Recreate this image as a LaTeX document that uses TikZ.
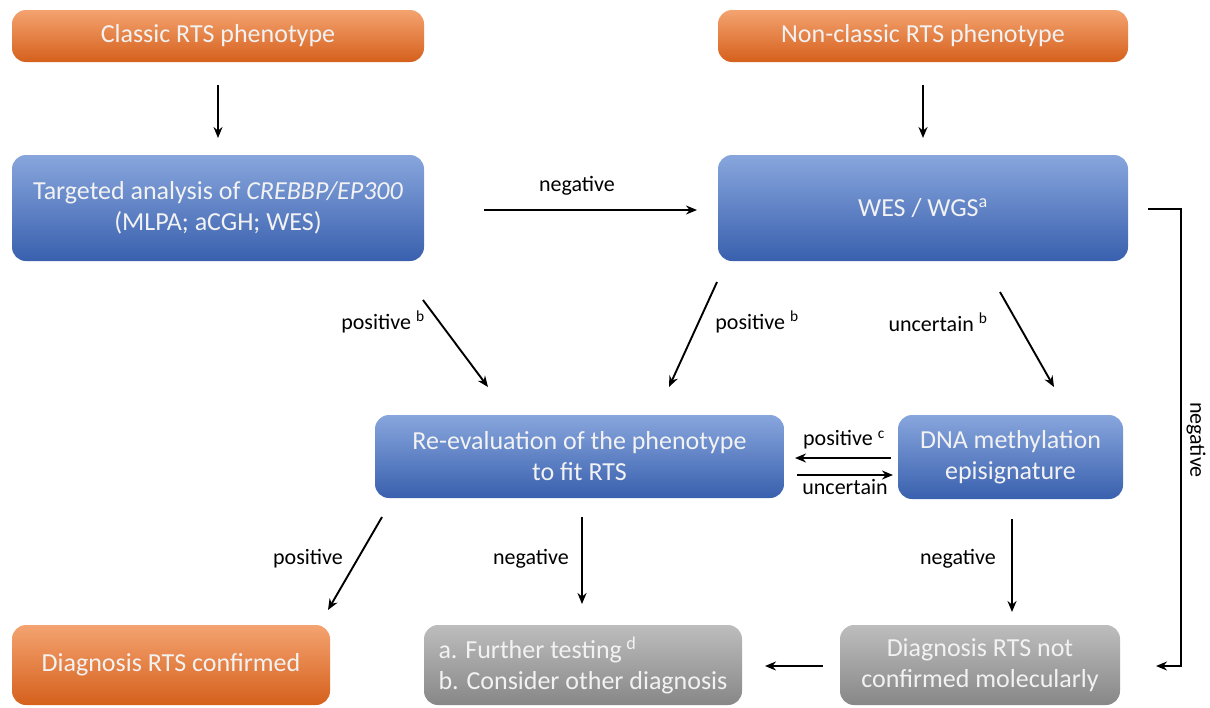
\documentclass[tikz,border=0pt]{standalone}
\usepackage{fontspec}
\setmainfont{Carlito}
\usetikzlibrary{arrows.meta}
\definecolor{orT}{HTML}{F4A370}
\definecolor{orB}{HTML}{D5601C}
\definecolor{blT}{HTML}{88A6DD}
\definecolor{blB}{HTML}{3960AE}
\definecolor{grT}{HTML}{BDBDBD}
\definecolor{grB}{HTML}{878787}
\tikzset{
  box/.style={rounded corners=14pt, align=center, text=white!95!black,
    font=\fontsize{26}{31}\selectfont, inner sep=0pt},
  obox/.style={box, top color=orT, bottom color=orB},
  bbox/.style={box, top color=blT, bottom color=blB},
  gbox/.style={box, top color=grT, bottom color=grB},
  lbl/.style={font=\fontsize{22}{26}\selectfont, text=black, inner sep=0pt},
  arr/.style={-{Stealth[length=11pt,width=9pt]}, line width=1.9pt, black}
}
\begin{document}
\begin{tikzpicture}[x=1pt,y=-1pt]
\useasboundingbox (0,0) rectangle (1210,707);
% boxes
\node[obox, minimum width=412pt, minimum height=52pt] (classic) at (218,36) {Classic RTS phenotype};
\node[obox, minimum width=410pt, minimum height=52pt] (nonclassic) at (923,36) {Non-classic RTS phenotype};
\node[bbox, minimum width=412pt, minimum height=106pt] (targeted) at (218,208) {Targeted analysis of \textit{CREBBP/EP300}\\(MLPA; aCGH; WES)};
\node[bbox, minimum width=410pt, minimum height=106pt] (wes) at (923,208) {WES / WGS\textsuperscript{a}};
\node[bbox, minimum width=409pt, minimum height=83pt] (reeval) at (579.5,456.5) {Re-evaluation of the phenotype\\to fit RTS};
\node[bbox, minimum width=225pt, minimum height=84pt] (dna) at (1010.5,457) {DNA methylation\\episignature};
\node[obox, minimum width=318pt, minimum height=80pt] (confirmed) at (171,665) {Diagnosis RTS confirmed};
\node[gbox, minimum width=318pt, minimum height=80pt, align=left] (further) at (583,665) {a. Further testing\,\textsuperscript{d}\\b. Consider other diagnosis};
\node[gbox, minimum width=280pt, minimum height=80pt] (notconf) at (980,665) {Diagnosis RTS not\\confirmed molecularly};
% connector end coordinates
\coordinate (c1s) at (218,85); \coordinate (c1e) at (218,138);
\coordinate (c2s) at (923,85); \coordinate (c2e) at (923,138);
\coordinate (c3s) at (484,210); \coordinate (c3e) at (697,210);
\coordinate (c4s) at (423,300); \coordinate (c4e) at (488,387);
\coordinate (c5s) at (717,282); \coordinate (c5e) at (669,387);
\coordinate (c6s) at (1000,292); \coordinate (c6e) at (1054,387);
\coordinate (c7s) at (891,458); \coordinate (c7e) at (795,458);
\coordinate (c8s) at (797,475); \coordinate (c8e) at (893,475);
\coordinate (c9s) at (382,517); \coordinate (c9e) at (328,610);
\coordinate (c10s) at (582,517); \coordinate (c10e) at (582,604);
\coordinate (c11s) at (1012,519); \coordinate (c11e) at (1012,612);
\coordinate (c12s) at (823,666); \coordinate (c12e) at (765,666);
\coordinate (c13s) at (1148,209); \coordinate (c13a) at (1181,209);
\coordinate (c13b) at (1181,666); \coordinate (c13e) at (1156,666);
% connectors
\draw[arr] (c1s) -- (c1e);
\draw[arr] (c2s) -- (c2e);
\draw[arr] (c3s) -- (c3e);
\draw[arr] (c4s) -- (c4e);
\draw[arr] (c5s) -- (c5e);
\draw[arr] (c6s) -- (c6e);
\draw[arr] (c7s) -- (c7e);
\draw[arr] (c8s) -- (c8e);
\draw[arr] (c9s) -- (c9e);
\draw[arr] (c10s) -- (c10e);
\draw[arr] (c11s) -- (c11e);
\draw[arr] (c12s) -- (c12e);
\draw[arr] (c13s) -- (c13a) -- (c13b) -- (c13e);
% labels
\node[lbl] (l3) at (577,186) {negative};
\node[lbl] (l4) at (383,322) {positive \textsuperscript{b}};
\node[lbl] (l5) at (757,322) {positive \textsuperscript{b}};
\node[lbl] (l6) at (938,322) {uncertain \textsuperscript{b}};
\node[lbl] (l7) at (844,440) {positive \textsuperscript{c}};
\node[lbl] (l8) at (845,487) {uncertain};
\node[lbl] (l9) at (308,559) {positive};
\node[lbl] (l10) at (531,559) {negative};
\node[lbl] (l11) at (958,559) {negative};
\node[lbl, rotate=-90] (l13) at (1196,440) {negative};
\end{tikzpicture}
\end{document}
